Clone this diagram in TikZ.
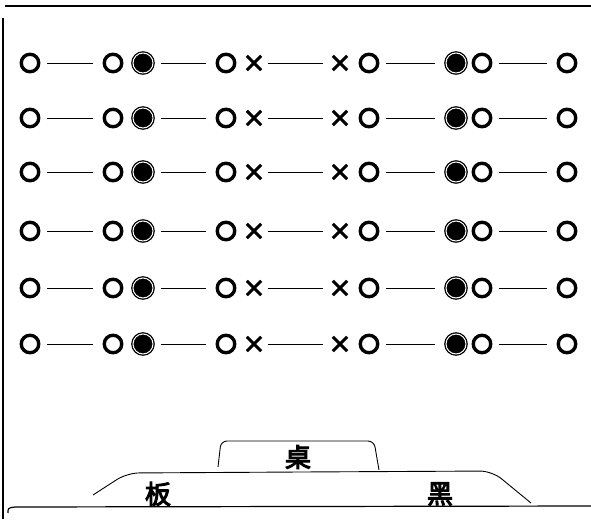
\documentclass[tikz,border=0pt]{standalone}
\usepackage{fontspec}
\newfontfamily\cjk{Noto Sans CJK SC}[FakeBold=4]
\usetikzlibrary{shapes.misc}

\tikzset{
    seat/.style={
        circle,draw,line width=3.4pt,
        minimum size=17.5pt,inner sep=0pt
    },
    pupil/.style={
        circle,draw,fill=black,line width=1.3pt,
        double=white,double distance=1pt,
        minimum size=20pt,inner sep=0pt
    },
    vacant/.style={
        cross out,draw,line width=2.9pt,
        minimum size=11.5pt,inner sep=0pt
    },
    link/.style={line width=1pt,shorten <=7pt,shorten >=10pt},
    label char/.style={font=\cjk\fontsize{26pt}{26pt}\selectfont,inner sep=0pt}
}

\begin{document}
\begin{tikzpicture}[x=1pt,y=-1pt]
        \useasboundingbox (0,0) rectangle (591,519);
        % frame
        \draw[line width=1.4pt] (5,6) -- (591,6);
        \draw[line width=1.2pt] (3,18) -- (3,519);
        \draw[line width=1.2pt] (8,513) .. controls (8,508) .. (15,507) -- (591,506);
        % seats
        \foreach \r/\y in {1/63,2/118,3/172,4/231,5/288,6/344}{
            \node[seat] (a\r) at (30,\y) {};
            \node[seat] (b\r) at (113,\y) {};
            \node[pupil] (c\r) at (143,\y) {};
            \node[seat] (d\r) at (226,\y) {};
            \node[vacant] (e\r) at (254,\y) {};
            \node[vacant] (f\r) at (340,\y) {};
            \node[seat] (g\r) at (369,\y) {};
            \node[pupil] (h\r) at (456,\y) {};
            \node[seat] (i\r) at (482,\y) {};
            \node[seat] (j\r) at (567,\y) {};
            \draw[link] (a\r) -- (b\r);
            \draw[link] (c\r) -- (d\r);
            \draw[link] (e\r) -- (f\r);
            \draw[link] (g\r) -- (h\r);
            \draw[link] (i\r) -- (j\r);
        }
        % desk and blackboard
        \draw[line width=.9pt,rounded corners=6pt] (218,467) -- (221,441) -- (374,441) -- (379,470);
        \draw[line width=.9pt,rounded corners=12pt] (93,495) -- (127,473) -- (300,472) -- (492,471) -- (531,503);
        \node[label char] (desk) at (298,457) {桌};
        \node[label char] (board) at (158,494) {板};
        \node[label char] (black) at (440,494) {黑};
    \end{tikzpicture}
\end{document}
